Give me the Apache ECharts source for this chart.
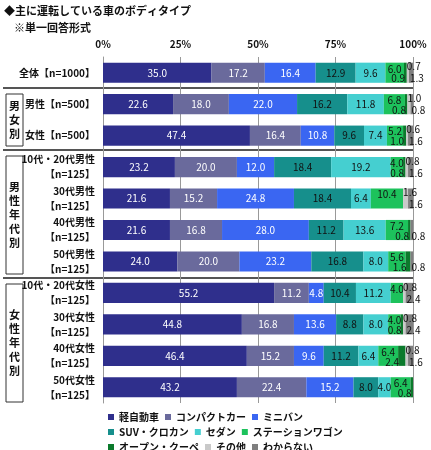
<!DOCTYPE html>
<html><head><meta charset="utf-8">
<script src="https://cdn.jsdelivr.net/npm/echarts@6/dist/echarts.min.js"></script>
<style>html,body{margin:0;padding:0;background:#fff}#c{width:431px;height:450px}</style>
</head><body><div id="c"></div>
<script>
const categories = ['全体【n=1000】','男性【n=500】','女性【n=500】','10代・20代男性\n【n=125】','30代男性\n【n=125】','40代男性\n【n=125】','50代男性\n【n=125】','10代・20代女性\n【n=125】','30代女性\n【n=125】','40代女性\n【n=125】','50代女性\n【n=125】'];
const seriesNames = ['軽自動車','コンパクトカー','ミニバン','SUV・クロカン','セダン','ステーションワゴン','オープン・クーペ','その他','わからない'];
const kei      = [35.0,22.6,47.4,23.2,21.6,21.6,24.0,55.2,44.8,46.4,43.2];
const compact  = [17.2,18.0,16.4,20.0,15.2,16.8,20.0,11.2,16.8,15.2,22.4];
const minivan  = [16.4,22.0,10.8,12.0,24.8,28.0,23.2,4.8,13.6,9.6,15.2];
const suv      = [12.9,16.2,9.6,18.4,18.4,11.2,16.8,10.4,8.8,11.2,8.0];
const sedan    = [9.6,11.8,7.4,19.2,6.4,13.6,8.0,11.2,8.0,6.4,4.0];
const wagon    = [6.0,6.8,5.2,4.0,10.4,7.2,5.6,4.0,4.0,6.4,6.4];
const open     = [0.9,0.8,1.0,0.8,0,0.8,1.6,0,0.8,2.4,0.8];
const other    = [0.7,1.0,0.6,0.8,1.6,0,0,0.8,0.8,0.8,0];
const unknown  = [1.3,0.8,1.6,1.6,1.6,0.8,0.8,2.4,2.4,1.6,0];
const xTicks = ['0%','25%','50%','75%','100%'];

const values=[kei,compact,minivan,suv,sedan,wagon,open,other,unknown];
const colors=['#2f2f8c','#6a6a9c','#3a66f2','#168f8c','#45cfd0','#1dc25c','#0b7a2c','#c9c9c9','#7f7f7f'];
const F='"Noto Sans CJK JP",sans-serif';
const fmt=p=>p.value>0?p.value.toFixed(1):'';
const base={color:'#111',fontSize:10,formatter:fmt,show:true};
const labelCfg=[
 {show:true,position:'inside',color:'#fff',fontSize:10,formatter:fmt},
 {show:true,position:'inside',color:'#fff',fontSize:10,formatter:fmt},
 {show:true,position:'inside',color:'#fff',fontSize:10,formatter:fmt},
 Object.assign({},base,{position:'inside'}),
 Object.assign({},base,{position:'inside'}),
 Object.assign({},base,{position:'inside',offset:[0,-4]}),
 Object.assign({},base,{position:[1,11],align:'right',verticalAlign:'top'}),
 Object.assign({},base,{position:[0,-1],align:'left',verticalAlign:'top'}),
 Object.assign({},base,{position:[1,11],align:'left',verticalAlign:'top'})
];
const series=seriesNames.map((n,i)=>({name:n,type:'bar',stack:'a',barWidth:'64%',data:values[i],
 itemStyle:{color:colors[i]},label:labelCfg[i]}));

const chart=echarts.init(document.getElementById('c'));
const row=(names,top)=>({orient:'horizontal',left:103,top:top,itemWidth:6,itemHeight:6,itemGap:6,icon:'rect',
 data:names,textStyle:{fontSize:10,fontWeight:'bold',fontFamily:F,color:'#111',width:95,overflow:'none'}});
const sep=y=>({type:'line',shape:{x1:3,y1:y,x2:413,y2:y},style:{stroke:'#555',lineWidth:2}});
const box=(y1,y2,t)=>({type:'group',children:[
 {type:'rect',shape:{x:6,y:y1,width:17,height:y2-y1},style:{fill:'#fff',stroke:'#333',lineWidth:1}},
 {type:'text',x:14.5,y:(y1+y2)/2,style:{text:t,align:'center',verticalAlign:'middle',fontSize:11,fontWeight:'bold',fontFamily:F,lineHeight:14,fill:'#111'}}]});
chart.setOption({
 animation:false,
 textStyle:{fontFamily:F},
 grid:{left:103,right:18,top:57,bottom:47},
 xAxis:{type:'value',position:'top',min:0,max:100,interval:25,
  axisLabel:{formatter:v=>xTicks[v/25],fontSize:10,fontWeight:'bold',color:'#111'},
  axisLine:{show:false},axisTick:{show:false},splitLine:{lineStyle:{color:'#999'}}},
 yAxis:{type:'category',inverse:true,data:categories,
  axisLabel:{fontSize:10,fontWeight:'bold',color:'#111',lineHeight:15,margin:8},
  axisTick:{show:false},axisLine:{lineStyle:{color:'#999'}}},
 legend:[row([seriesNames[0],seriesNames[1],seriesNames[2]],407),
         row([seriesNames[3],seriesNames[4],seriesNames[5]],422),
         row([seriesNames[6],seriesNames[7],seriesNames[8]],437)],
 graphic:[
  {type:'text',left:4,top:5,style:{text:'◆主に運転している車のボディタイプ',fontSize:11,fontWeight:'bold',fontFamily:F,fill:'#111'}},
  {type:'text',left:14,top:22,style:{text:'※単一回答形式',fontSize:11,fontWeight:'bold',fontFamily:F,fill:'#111'}},
  sep(88),sep(150),sep(278),
  box(94,146,'男\n女\n別'),box(156,274,'男\n性\n年\n代\n別'),box(284,402,'女\n性\n年\n代\n別')
 ],
 series:series
});
</script></body></html>
